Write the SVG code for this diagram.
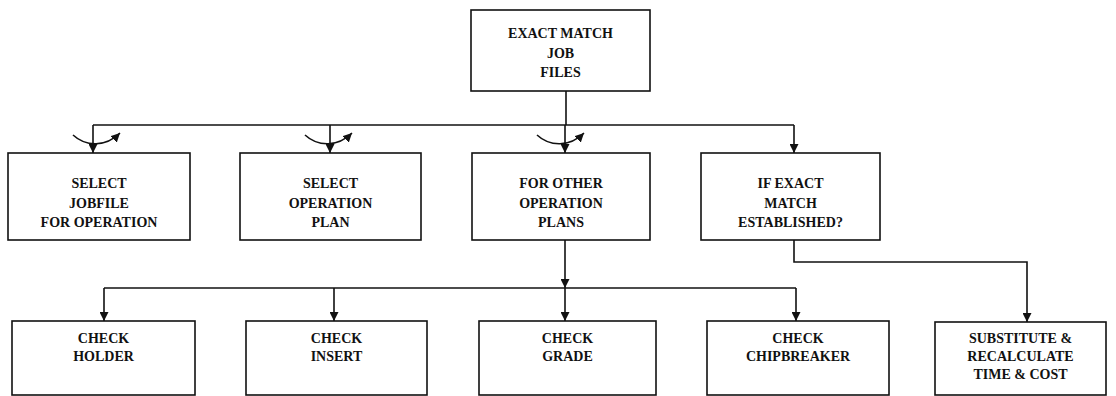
<svg xmlns="http://www.w3.org/2000/svg" width="1116" height="396" viewBox="0 0 1116 396">
<style>
  .box { fill: #fff; stroke: #111; stroke-width: 1.6; }
  .lbl { font-family: "Liberation Serif", "Times New Roman", serif; font-size: 14px; font-weight: bold; fill: #111; text-anchor: middle; }
  .con { fill: none; stroke: #111; stroke-width: 1.6; }
</style>
<defs>
  <marker id="ah" viewBox="0 0 10 10" refX="10" refY="5" markerWidth="9" markerHeight="9" markerUnits="userSpaceOnUse" orient="auto">
    <path d="M0,0 L10,5 L0,10 z" fill="#111"/>
  </marker>
</defs>
<rect width="1116" height="396" fill="#fff"/>
<g id="connectors">
  <path class="con" d="M566 91 V125"/>
  <path class="con" d="M93 125 H794"/>
  <path class="con" d="M93 125 V153" marker-end="url(#ah)"/>
  <path class="con" d="M330 125 V153" marker-end="url(#ah)"/>
  <path class="con" d="M565 125 V153" marker-end="url(#ah)"/>
  <path class="con" d="M794 125 V153" marker-end="url(#ah)"/>
  <path class="con" d="M73 135 C86 147 106 147 120 133" marker-end="url(#ah)"/>
  <path class="con" d="M305 135 C318 147 338 147 352 133" marker-end="url(#ah)"/>
  <path class="con" d="M537 135 C550 147 570 147 584 133" marker-end="url(#ah)"/>
  <path class="con" d="M565 240 V288" marker-end="url(#ah)"/>
  <path class="con" d="M565 288 V321" marker-end="url(#ah)"/>
  <path class="con" d="M104 288 H796"/>
  <path class="con" d="M104 288 V321" marker-end="url(#ah)"/>
  <path class="con" d="M334 288 V321" marker-end="url(#ah)"/>
  <path class="con" d="M796 288 V321" marker-end="url(#ah)"/>
  <path class="con" d="M794 240 V262 H1027 V322" marker-end="url(#ah)"/>
</g>
<g id="exact-match-job-files">
  <rect class="box" x="471" y="10" width="179" height="81"/>
  <text class="lbl" x="560.5" y="38">EXACT MATCH</text>
  <text class="lbl" x="560.5" y="58">JOB</text>
  <text class="lbl" x="560.5" y="77">FILES</text>
</g>
<g id="select-jobfile">
  <rect class="box" x="8" y="153" width="182" height="87"/>
  <text class="lbl" x="99" y="188">SELECT</text>
  <text class="lbl" x="99" y="208">JOBFILE</text>
  <text class="lbl" x="99" y="227">FOR OPERATION</text>
</g>
<g id="select-operation-plan">
  <rect class="box" x="240" y="153" width="181" height="87"/>
  <text class="lbl" x="330.5" y="188">SELECT</text>
  <text class="lbl" x="330.5" y="208">OPERATION</text>
  <text class="lbl" x="330.5" y="227">PLAN</text>
</g>
<g id="for-other-operation-plans">
  <rect class="box" x="472" y="153" width="178" height="87"/>
  <text class="lbl" x="561" y="188">FOR OTHER</text>
  <text class="lbl" x="561" y="208">OPERATION</text>
  <text class="lbl" x="561" y="227">PLANS</text>
</g>
<g id="if-exact-match">
  <rect class="box" x="701" y="153" width="179" height="87"/>
  <text class="lbl" x="790.5" y="188">IF EXACT</text>
  <text class="lbl" x="790.5" y="208">MATCH</text>
  <text class="lbl" x="790.5" y="227">ESTABLISHED?</text>
</g>
<g id="check-holder">
  <rect class="box" x="12" y="321" width="183" height="74"/>
  <text class="lbl" x="103.5" y="343">CHECK</text>
  <text class="lbl" x="103.5" y="361">HOLDER</text>
</g>
<g id="check-insert">
  <rect class="box" x="246" y="321" width="181" height="74"/>
  <text class="lbl" x="336.5" y="343">CHECK</text>
  <text class="lbl" x="336.5" y="361">INSERT</text>
</g>
<g id="check-grade">
  <rect class="box" x="479" y="321" width="177" height="74"/>
  <text class="lbl" x="567.5" y="343">CHECK</text>
  <text class="lbl" x="567.5" y="361">GRADE</text>
</g>
<g id="check-chipbreaker">
  <rect class="box" x="707" y="321" width="182" height="74"/>
  <text class="lbl" x="798" y="343">CHECK</text>
  <text class="lbl" x="798" y="361">CHIPBREAKER</text>
</g>
<g id="substitute-recalculate">
  <rect class="box" x="935" y="322" width="171" height="73"/>
  <text class="lbl" x="1020.5" y="343">SUBSTITUTE &amp;</text>
  <text class="lbl" x="1020.5" y="361">RECALCULATE</text>
  <text class="lbl" x="1020.5" y="379">TIME &amp; COST</text>
</g>
</svg>
